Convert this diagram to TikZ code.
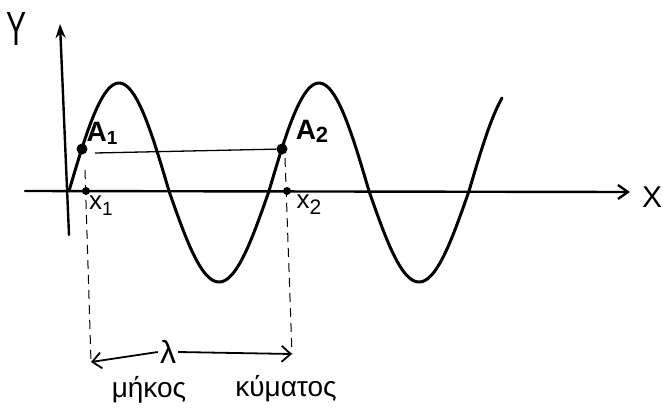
\documentclass[tikz,border=0pt]{standalone}
\usepackage{fontspec}
\setmainfont{Liberation Sans}
\usetikzlibrary{arrows.meta}
\tikzset{
  axis/.style={line width=2.4pt, line cap=round},
  wave/.style={line width=3pt, line cap=round, line join=round},
  thin line/.style={line width=1.3pt},
  dline/.style={line width=1pt, dash pattern=on 9pt off 6pt},
  dotpt/.style={circle, fill=black, inner sep=0pt, minimum size=11pt},
  smalldot/.style={circle, fill=black, inner sep=0pt, minimum size=8pt},
  lbl/.style={inner sep=1pt, font=\bfseries\fontsize{28}{30}\selectfont},
}
\begin{document}
\begin{tikzpicture}[x=1pt, y=-1pt]
\useasboundingbox (0,0) rectangle (663,418);
% axes
\coordinate (ybot) at (69,235);
\coordinate (ytop) at (60,24);
\coordinate (xleft) at (25,191);
\coordinate (xright) at (630,192);
\draw[axis, -{Stealth[length=14pt,width=10pt]}] (ybot) -- (ytop);
\draw[axis, -{Straight Barb[length=10pt,width=14pt]}] (xleft) -- (xright);
\node[font=\fontsize{40}{42}\selectfont, xscale=0.75, yscale=1.2] (Y) at (17,29) {Y};
\node[font=\fontsize{30}{32}\selectfont] (X) at (652,197) {X};
% wave
\draw[wave] plot[domain=69:502, samples=220, smooth]
  (\x, {191 - ((sin(1.8*(\x-69))>0) ? 108 : 91)*sin(1.8*(\x-69))});
% points
\node[dotpt] (A1) at (82,149) {};
\node[dotpt] (A2) at (282,149) {};
\node[smalldot] (x1) at (86,191) {};
\node[smalldot] (x2) at (287,191) {};
\coordinate (h1) at (95,153);
\draw[thin line] (h1) -- (A2);
% labels
\node[lbl] (lA1) at (102,133) {A\raisebox{-3pt}{\fontsize{19}{19}\selectfont 1}};
\node[lbl] (lA2) at (312,131) {A\raisebox{-3pt}{\fontsize{22}{22}\selectfont 2}};
\node[font=\fontsize{26}{28}\selectfont] (lx1) at (101,206) {x\raisebox{-6pt}{\fontsize{19}{19}\selectfont 1}};
\node[font=\fontsize{26}{28}\selectfont] (lx2) at (309,205) {x\raisebox{-6pt}{\fontsize{21}{21}\selectfont 2}};
% dashed verticals
\coordinate (d1) at (85,170);
\coordinate (L) at (91,362);
\coordinate (d2) at (285,158);
\coordinate (R) at (292,354);
\draw[dline] (d1) -- (L);
\draw[dline] (d2) -- (R);
% lambda arrow
\node[font=\fontsize{32}{34}\selectfont, inner sep=2pt] (lam) at (168,352) {λ};
\draw[line width=1.8pt, -{Straight Barb[length=9pt,width=16pt]}] (lam.west) -- (L);
\draw[line width=1.8pt, -{Straight Barb[length=9pt,width=16pt]}] (lam.east) -- (R);
% caption
\node[font=\fontsize{28}{30}\selectfont] (c1) at (149,390) {μήκος};
\node[font=\fontsize{28}{30}\selectfont] (c2) at (286,389) {κύματος};
\end{tikzpicture}
\end{document}
